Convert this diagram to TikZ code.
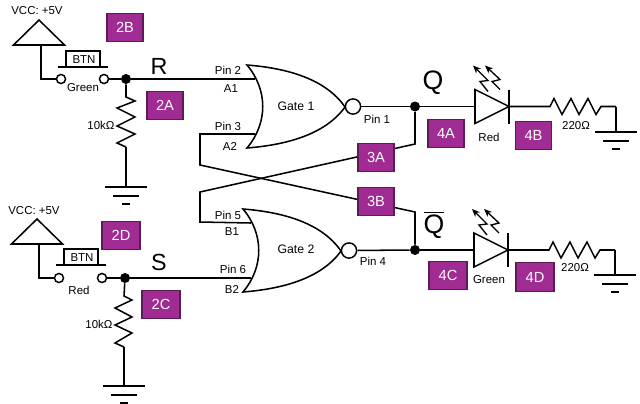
\documentclass[tikz,border=0pt]{standalone}
\usepackage{fontspec}
\setmainfont{Liberation Sans}
\usetikzlibrary{calc, arrows.meta, positioning}
\definecolor{boxfill}{RGB}{160,43,147}
\definecolor{boxline}{RGB}{92,26,86}
\tikzset{
    wire/.style={line width=1.15pt, line join=miter, black},
    termnode/.style={circle, draw, line width=1.1pt, fill=white, inner sep=0pt, minimum size=6.8pt},
    dotnode/.style={circle, fill=black, inner sep=0pt, minimum size=7.5pt},
    bubble/.style={circle, draw, line width=1.1pt, fill=white, inner sep=0pt, minimum size=11.4pt},
    labelnode/.style={inner sep=0pt, font=\fontsize{8.6}{10}\selectfont},
    bignode/.style={inner sep=0pt, font=\fontsize{17.5}{20}\selectfont}
}
\newcommand{\drawB}[4][27]{
    \node[draw=boxline, line width=0.9pt, fill=boxfill, text=white, inner sep=0pt,
          minimum width=#1pt, minimum height=21.5pt, font=\fontsize{11}{13}\selectfont] (box#4) at (#2,#3) {#4};
}
\newcommand{\drawT}[4]{
    \node[labelnode] (#1) at (#2,#3) {#4};
}
\newcommand{\drawG}[3]{
    \draw[wire] (#1) -- (#2,#3);
    \draw[wire] (#2-21,#3) -- (#2+21,#3);
    \draw[wire] (#2-13,#3+9) -- (#2+13,#3+9);
    \draw[wire] (#2-4,#3+17) -- (#2+4,#3+17);
}
\newcommand{\drawGate}[3]{
    \coordinate (#1a) at (#2+8,#3+14);
    \coordinate (#1b) at (#2+8,#3+69);
    \node[bubble] (#1n) at (#2+106,#3+41.5) {};
    \draw[wire] (#2,#3) .. controls (#2+38,#3+3) and (#2+78,#3+13) .. (#2+98,#3+42)
        .. controls (#2+78,#3+70) and (#2+38,#3+80) .. (#2,#3+83)
        .. controls (#2+21,#3+58) and (#2+21,#3+25) .. cycle;
}
\newcommand{\drawVcc}[3]{
    \draw[wire] (#2,#3) -- (#2+25.5,#3+25) -- (#2-25.5,#3+25) -- cycle;
    \coordinate (#1) at (#2+2,#3+25);
}
\newcommand{\drawBtn}[3]{
    \draw[wire] (#2-26,#3) -- (#2+24,#3);
    \draw[wire] (#2-18,#3) -- (#2-18,#3-16) -- (#2+16,#3-16) -- (#2+16,#3);
    \node[labelnode] (#1) at (#2,#3-7.5) {BTN};
}
\newcommand{\drawLed}[3]{
    \draw[wire] (#2,#3-17) -- (#2+34,#3) -- (#2,#3+17) -- cycle;
    \draw[wire] (#2+34,#3-17) -- (#2+34,#3+17);
    \coordinate (#1k) at (#2+34,#3);
    \coordinate (#1a) at (#2,#3);
    \draw[wire, line width=1pt, -{Stealth[length=6pt, width=5pt]}]
        (#2+13,#3-15) -- (#2+5,#3-25) -- (#2+13,#3-26) -- (#2-2,#3-41);
    \draw[wire, line width=1pt, -{Stealth[length=6pt, width=5pt]}]
        (#2+25,#3-17) -- (#2+17,#3-25) -- (#2+25,#3-27) -- (#2+10,#3-41);
}

\begin{document}
\begin{tikzpicture}[x=0.75pt, y=-0.75pt]
        \useasboundingbox (0,0) rectangle (640,404);
        % Gates
        \drawGate{gA}{247}{65}
        \drawGate{gB}{243}{209}
        \node[labelnode, font=\fontsize{9.2}{11}\selectfont] (gAtext) at (296,106) {Gate 1};
        \node[labelnode, font=\fontsize{9.2}{11}\selectfont] (gBtext) at (296,249.5) {Gate 2};
        % Junctions
        \node[dotnode] (jR) at (126,79) {};
        \node[dotnode] (jS) at (125,278) {};
        \node[dotnode] (jQ) at (415,106.5) {};
        \node[dotnode] (jN) at (415,250) {};
        % Upper input
        \drawVcc{vA}{39}{20}
        \node[termnode] (tA1) at (61,79) {};
        \node[termnode] (tA2) at (104,79) {};
        \drawBtn{btnA}{84}{67}
        \draw[wire] (vA) |- (tA1);
        \draw[wire] (tA2) -- (jR);
        \draw[wire] (jR) -- (gAa);
        \coordinate (rAt) at (126,97);
        \draw[wire] (jR) -- (rAt) -- ++(9,4) -- ++(-18,7) -- ++(18,9) -- ++(-18,9) -- ++(18,8) -- ++(-18,9) -- (126,147) coordinate (rAb);
        \drawG{rAb}{126}{187}
        % Lower input
        \drawVcc{vB}{37}{219}
        \node[termnode] (tB1) at (59,278) {};
        \node[termnode] (tB2) at (102,278) {};
        \drawBtn{btnB}{82}{265}
        \draw[wire] (vB) |- (tB1);
        \draw[wire] (tB2) -- (jS);
        \draw[wire] (jS) -- (gBb);
        \coordinate (rBt) at (124,296);
        \draw[wire] (jS) -- (rBt) -- ++(8,4) -- ++(-17,8) -- ++(17,9) -- ++(-17,8) -- ++(17,8) -- ++(-17,10) -- (124,347) coordinate (rBb);
        \drawG{rBb}{124}{386}
        % Cross coupling
        \coordinate (xA1) at (200,134);
        \coordinate (xA2) at (200,165);
        \coordinate (xA3) at (415,212);
        \coordinate (xB1) at (200,222);
        \coordinate (xB2) at (200,192);
        \coordinate (xB3) at (415,144);
        \draw[wire] (gAb) -- (xA1) -- (xA2) -- (xA3) -- (jN);
        \draw[wire] (gBa) -- (xB1) -- (xB2) -- (xB3) -- (jQ);
        \draw[wire] (gAn) -- (jQ);
        \draw[wire] (gBn) -- (jN);
        % Upper output
        \drawLed{ledA}{475}{106.5}
        \draw[wire] (jQ) -- (ledAa);
        \coordinate (rCl) at (550,106.5);
        \draw[wire] (ledAk) -- (rCl) -- ++(4,-8) -- ++(8,16) -- ++(9,-16) -- ++(8,16) -- ++(9,-16) -- ++(8,16) -- (601,106.5) coordinate (rCr) -- (616,106.5) coordinate (rCe);
        \drawG{rCe}{616}{132}
        % Lower output
        \drawLed{ledB}{474}{250}
        \draw[wire] (jN) -- (ledBa);
        \coordinate (rDl) at (549,250);
        \draw[wire] (ledBk) -- (rDl) -- ++(4,-8) -- ++(8,16) -- ++(9,-16) -- ++(8,16) -- ++(9,-16) -- ++(8,16) -- (600,250) coordinate (rDr) -- (615,250) coordinate (rDe);
        \drawG{rDe}{615}{275}
        % Boxes
        \drawB{125}{27.5}{2B}
        \drawB{165}{105.5}{2A}
        \drawB[28.5]{121}{235.5}{2D}
        \drawB[28.5]{161}{304.5}{2C}
        \drawB{376}{157.5}{3A}
        \drawB{376}{201.5}{3B}
        \drawB{446}{133.5}{4A}
        \drawB{533.5}{135.5}{4B}
        \drawB[28.5]{448}{275.5}{4C}
        \drawB[28.5]{535}{277}{4D}
        % Text
        \drawT{vccA}{37}{11}{VCC: +5V}
        \drawT{vccB}{34}{211}{VCC: +5V}
        \drawT{swA}{83}{88}{Green}
        \drawT{swB}{79}{290}{Red}
        \drawT{kA}{101}{125}{10kΩ}
        \drawT{kB}{99}{324}{10kΩ}
        \drawT{p2}{228}{70}{Pin 2}
        \drawT{a1}{231}{89}{A1}
        \drawT{p3}{228}{126}{Pin 3}
        \drawT{a2}{230}{146}{A2}
        \drawT{p1}{377}{119}{Pin 1}
        \drawT{p5}{228}{215}{Pin 5}
        \drawT{b1}{232}{232}{B1}
        \drawT{p6}{233}{269}{Pin 6}
        \drawT{b2}{232}{289}{B2}
        \drawT{p4}{373}{261}{Pin 4}
        \drawT{cA}{489}{137}{Red}
        \drawT{cB}{489}{280}{Green}
        \drawT{oA}{576}{126}{220Ω}
        \drawT{oB}{575}{268}{220Ω}
        \node[bignode] (tR) at (159,66) {R};
        \node[bignode] (tS) at (159,262) {S};
        \node[bignode, font=\fontsize{20}{22}\selectfont] (tQ) at (433,83) {Q};
        \node[bignode, font=\fontsize{20}{22}\selectfont] (tN) at (434,225) {$\overline{\hbox{Q}}$};
\end{tikzpicture}
\end{document}
